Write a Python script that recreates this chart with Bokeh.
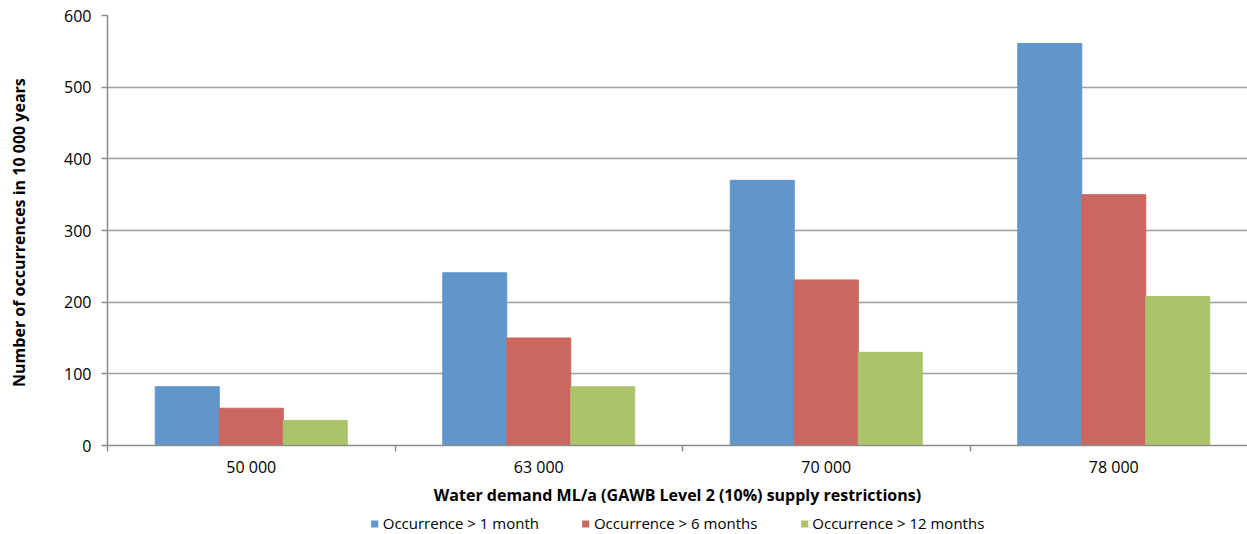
from bokeh.plotting import figure
from bokeh.models import ColumnDataSource, FixedTicker, Range1d, Legend, LegendItem
from bokeh.layouts import column
from bokeh.embed import file_html
from bokeh.resources import INLINE

categories = ["50 000", "63 000", "70 000", "78 000"]
series_names = ["Occurrence > 1 month", "Occurrence > 6 months", "Occurrence > 12 months"]
gt_1_month = [82, 241, 370, 561]
gt_6_months = [52, 150, 231, 350]
gt_12_months = [35, 82, 130, 208]
y_ticks = [0, 100, 200, 300, 400, 500, 600]

colors = ["#6096C9", "#CB6661", "#ABC46C"]
FONT = "Open Sans"

W, H, H_LEG = 1247, 512, 22
left, top, bottom = 107, 15, 67
frame_w = W - left
cat_px = 287.5
x_end = frame_w / cat_px

p = figure(width=W, height=H, output_backend="svg", toolbar_location=None,
           x_range=Range1d(0, x_end), y_range=Range1d(0, 600),
           min_border_left=left, min_border_top=top, min_border_right=0,
           min_border_bottom=bottom)
p.outline_line_color = None
p.background_fill_color = "white"
p.border_fill_color = "white"

bw = 64 / cat_px
offsets = [-bw, 0, bw]
centers = [i + 0.5 for i in range(len(categories))]
for vals, off, col in zip([gt_1_month, gt_6_months, gt_12_months], offsets, colors):
    src = ColumnDataSource(dict(x=[c + off for c in centers], top=vals))
    p.vbar(x="x", top="top", width=bw, bottom=0, source=src,
           fill_color=col, line_color=col, line_width=1)

# axes
p.xaxis.ticker = FixedTicker(ticks=centers, minor_ticks=list(range(len(categories) + 1)))
p.xaxis.major_label_overrides = {c: lab for c, lab in zip(centers, categories)}
p.xaxis.major_tick_out = 0
p.xaxis.major_tick_in = 0
p.xaxis.minor_tick_out = 6
p.xaxis.minor_tick_in = 0
p.xaxis.minor_tick_line_color = "#8c8c8c"
p.xaxis.minor_tick_line_width = 1.5
p.xaxis.axis_line_color = "#8c8c8c"
p.xaxis.axis_line_width = 1.5
p.xaxis.major_label_text_font = FONT
p.xaxis.major_label_text_font_size = "16px"
p.xaxis.major_label_text_color = "#000000"
p.xaxis.major_label_standoff = 4
p.xaxis.axis_label = "Water demand ML/a (GAWB Level 2 (10%) supply restrictions)"
p.xaxis.axis_label_text_font = FONT
p.xaxis.axis_label_text_font_size = "16px"
p.xaxis.axis_label_text_font_style = "bold"
p.xaxis.axis_label_text_color = "#000000"
p.xaxis.axis_label_standoff = 3

p.yaxis.ticker = FixedTicker(ticks=y_ticks)
p.yaxis.minor_tick_line_color = None
p.yaxis.major_tick_out = 6
p.yaxis.major_tick_in = 0
p.yaxis.major_tick_line_color = "#8c8c8c"
p.yaxis.major_tick_line_width = 1.5
p.yaxis.axis_line_color = "#8c8c8c"
p.yaxis.axis_line_width = 1.5
p.yaxis.major_label_text_font = FONT
p.yaxis.major_label_text_font_size = "16px"
p.yaxis.major_label_text_color = "#000000"
p.yaxis.major_label_standoff = 10
p.yaxis.axis_label = "Number of occurrences  in 10 000 years"
p.yaxis.axis_label_text_font = FONT
p.yaxis.axis_label_text_font_size = "16px"
p.yaxis.axis_label_text_font_style = "bold"
p.yaxis.axis_label_text_color = "#000000"
p.yaxis.axis_label_standoff = 31

p.xgrid.grid_line_color = None
p.ygrid.ticker = FixedTicker(ticks=y_ticks)
p.ygrid.grid_line_color = "#a0a0a0"
p.ygrid.grid_line_width = 1.5

# legend strip
pl = figure(width=W, height=H_LEG, output_backend="svg", toolbar_location=None,
            x_range=Range1d(0, 1), y_range=Range1d(0, 1),
            x_axis_location=None, y_axis_location=None,
            min_border_left=left, min_border_top=0, min_border_right=0,
            min_border_bottom=0)
pl.outline_line_color = None
pl.xgrid.grid_line_color = None
pl.ygrid.grid_line_color = None
leg_renderers = []
for col in colors:
    r = pl.vbar(x=[-10], top=[0], bottom=[0], width=0.01, fill_color=col, line_color=None)
    leg_renderers.append(r)

legend = Legend(items=[LegendItem(label=n, renderers=[r]) for n, r in zip(series_names, leg_renderers)],
                orientation="horizontal", location="center")
legend.label_text_font = FONT
legend.label_text_font_size = "15px"
legend.label_text_color = "#000000"
legend.glyph_width = 9
legend.glyph_height = 9
legend.label_standoff = 4
legend.spacing = 42
legend.padding = 1
legend.margin = 0
legend.border_line_color = None
legend.background_fill_alpha = 0
pl.add_layout(legend, "center")

layout = column(p, pl, spacing=0)
open("out.html", "w").write(file_html(layout, INLINE))
